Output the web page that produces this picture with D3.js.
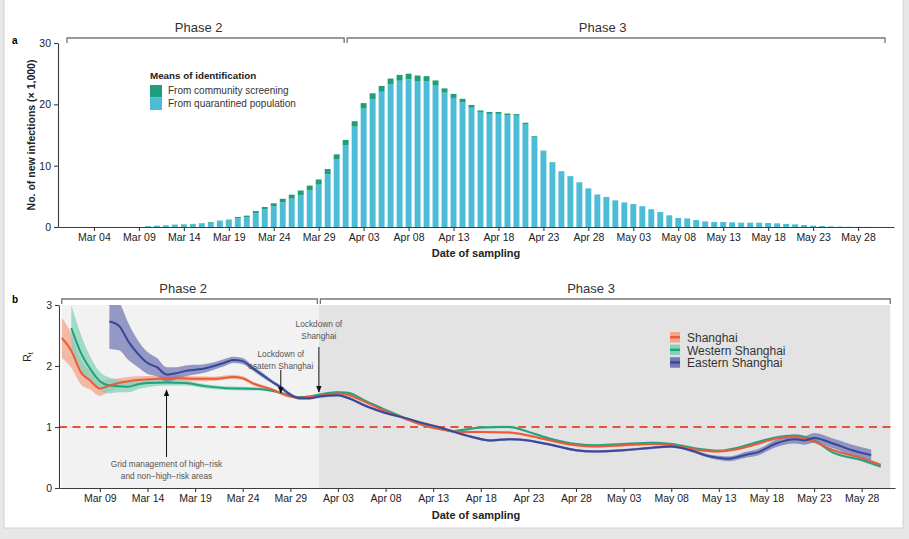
<!DOCTYPE html>
<html>
<head>
<meta charset="utf-8">
<script src="https://cdn.jsdelivr.net/npm/d3@7"></script>
<style>
  body { margin: 0; background: #e7e7e7; font-family: "Liberation Sans", Arial, sans-serif; }
  .tick text { font-size: 10.5px; fill: #222; font-family: "Liberation Sans", Arial, sans-serif; }
  .tick line, .domain { stroke: #3c3c3c; stroke-width: 1.1; }
  .note { font-size: 8.3px; fill: #555; text-anchor: middle; }
  .phase { font-size: 13px; fill: #333; text-anchor: middle; }
  .bracket { fill: none; stroke: #777; stroke-width: 1.3; }
</style>
</head>
<body>
<svg width="909" height="539"></svg>
<script>
// ---- panel a: new infections (thousands) per sampling day, from Mar 10 ----
var barStart = "2022-03-10";
var totalK = [0.15,0.2,0.27,0.38,0.43,0.5,0.6,0.82,1.03,1.2,1.63,1.85,2.6,3.26,3.86,4.6,5.27,5.95,6.75,7.75,9.45,11.85,
  14.2,17.25,20.2,21.8,23.0,24.2,24.8,25.0,24.7,24.6,23.9,22.6,21.7,20.9,19.9,19.0,18.75,18.75,18.5,18.4,17.0,14.8,12.45,10.55,9.1,8.3,7.3,6.3,5.3,4.9,
  4.35,4.0,3.75,3.4,2.9,2.45,1.9,1.47,1.4,1.14,0.92,0.82,0.82,0.76,0.7,0.7,0.7,0.65,0.6,0.5,0.43,0.33,0.22,0.16,0.1,0.06,0.04,0.03,0.02];
var communityK = [0.02,0.03,0.04,0.05,0.06,0.07,0.08,0.1,0.12,0.15,0.2,0.25,0.35,0.4,0.45,0.6,0.65,0.75,0.8,0.85,0.85,0.85,
  0.85,0.9,0.9,0.95,0.95,0.95,0.95,0.9,0.9,0.85,0.75,0.7,0.65,0.6,0.45,0.35,0.3,0.3,0.3,0.25,0.2,0.15,0.1,0.08,0.05,0.04,0.03,0.02,0.02,0.02,
  0.02,0.02,0.01,0.01,0.01,0.01,0.01,0.01,0.01,0.01,0.01,0.01,0.01,0.01,0.01,0.01,0.01,0.01,0.01,0.01,0.01,0.01,0.01,0,0,0,0,0,0];
var yTicksA = [0, 10, 20, 30];
var legendA = ["From community screening", "From quarantined population"];

var tickDays = ["2022-03-04","2022-03-09","2022-03-14","2022-03-19","2022-03-24","2022-03-29","2022-04-03","2022-04-08","2022-04-13",
  "2022-04-18","2022-04-23","2022-04-28","2022-05-03","2022-05-08","2022-05-13","2022-05-18","2022-05-23","2022-05-28"];

// ---- panel b: Rt (day = days after Mar 1), mean and half width of band ----
var shDay = [4,5,6,7,8,9,10,11,12,14,16,18,20,22,23,24,26,28,29,30,31,33,34,36,38,40,42,44,46,48,51,53,55,58,60,63,66,68,71,73,75,77,79,81,83,85,88,90];
var shRt = [2.46,2.25,1.90,1.76,1.63,1.68,1.72,1.75,1.77,1.79,1.80,1.79,1.79,1.82,1.80,1.72,1.62,1.50,1.48,1.49,1.51,1.55,1.53,1.40,1.26,1.14,1.03,0.96,0.92,0.92,
  0.91,0.86,0.79,0.70,0.68,0.70,0.72,0.70,0.62,0.60,0.64,0.72,0.81,0.84,0.76,0.62,0.49,0.38];
var shHalf = [0.33,0.28,0.2,0.15,0.12,0.1,0.08,0.07,0.06,0.05,0.045,0.04,0.035,0.035,0.03,0.03,0.025,0.02,0.02,0.02,0.02,0.02,0.02,0.02,0.02,0.02,0.02,0.02,
  0.02,0.02,0.02,0.02,0.02,0.02,0.02,0.02,0.02,0.02,0.02,0.02,0.02,0.02,0.02,0.02,0.02,0.02,0.025,0.025];

var wsDay = [5,6,7,8,9,10,11,12,13,15,17,19,21,23,25,27,28,29,30,31,33,34,36,38,40,42,44,45,46,48,50,51,53,55,58,60,63,66,68,71,73,75,77,79,81,83,85,88,90];
var wsRt = [2.62,2.22,1.95,1.75,1.68,1.67,1.66,1.70,1.72,1.73,1.72,1.67,1.64,1.63,1.62,1.56,1.51,1.49,1.50,1.53,1.57,1.56,1.42,1.28,1.15,
  1.03,0.96,0.93,0.95,0.99,1.00,1.00,0.92,0.82,0.72,0.70,0.72,0.74,0.72,0.64,0.61,0.66,0.75,0.83,0.86,0.78,0.58,0.46,0.35];
var wsHalf = [0.38,0.3,0.2,0.15,0.13,0.1,0.09,0.08,0.07,0.05,0.04,0.035,0.03,0.03,0.025,0.02,0.02,0.02,0.02,0.02,0.02,0.02,0.02,0.02,0.02,
  0.02,0.02,0.02,0.02,0.02,0.02,0.02,0.02,0.02,0.02,0.02,0.02,0.02,0.02,0.02,0.02,0.02,0.02,0.02,0.02,0.02,0.02,0.025,0.025];

var esDay = [9,10,11,12,13,14,15,16,17,18,19,20,21,22,23,24,25,26,27,28,29,30,31,33,34,36,38,40,42,44,45,47,49,51,53,55,58,60,63,66,68,70,72,74,76,77,79,81,82,83,85,87,89];
var esRt = [2.73,2.66,2.40,2.20,2.05,1.98,1.86,1.88,1.92,1.94,1.96,2.00,2.05,2.10,2.08,1.97,1.86,1.75,1.65,1.53,1.47,1.47,1.50,1.52,1.48,1.34,1.23,1.15,
  1.06,0.98,0.93,0.84,0.78,0.80,0.78,0.72,0.62,0.60,0.62,0.66,0.68,0.62,0.52,0.48,0.55,0.58,0.73,0.80,0.78,0.82,0.73,0.62,0.54];
var esHalf = [0.45,0.4,0.3,0.22,0.18,0.15,0.12,0.1,0.09,0.08,0.07,0.06,0.06,0.05,0.05,0.04,0.04,0.03,0.03,0.03,0.025,0.025,0.025,0.02,0.02,0.02,0.02,0.02,
  0.02,0.02,0.02,0.02,0.02,0.02,0.02,0.02,0.02,0.02,0.02,0.02,0.02,0.025,0.03,0.04,0.05,0.05,0.06,0.07,0.07,0.08,0.08,0.09,0.09];

var seriesNames = ["Shanghai", "Western Shanghai", "Eastern Shanghai"];
var yTicksB = [0, 1, 2, 3];

var phaseNames = ["Phase 2", "Phase 3"];
var phaseA = [["2022-03-01","2022-04-01"], ["2022-04-01","2022-05-31"]];
var phaseB = [["2022-03-05","2022-04-01"], ["2022-04-01","2022-05-31"]];

// ---- drawing ----
var svg = d3.select("svg");
var parse = d3.utcParse("%Y-%m-%d");
var fmt = d3.utcFormat("%b %d");
var mar1 = parse("2022-03-01");
var ticks = tickDays.map(parse);

// card
svg.append("rect").attr("x", 4).attr("y", -1).attr("width", 899).attr("height", 529)
  .attr("fill", "#fff").attr("stroke", "#d2d2d2");

/* panel a */
var xA = d3.scaleUtc().domain([parse("2022-02-28"), parse("2022-06-01")]).range([58, 894]);
var yA = d3.scaleLinear().domain([0, 30]).range([227, 43]);
var dayW = xA(parse("2022-03-02")) - xA(mar1);
var bw = dayW * 0.66;
var bars = totalK.map(function(t, i) {
  return { date: d3.utcDay.offset(parse(barStart), i), total: t, comm: communityK[i] };
});

var gA = svg.append("g");
gA.selectAll("rect.q").data(bars).enter().append("rect")
  .attr("x", function(d) { return xA(d.date) - bw / 2; })
  .attr("width", bw)
  .attr("y", function(d) { return yA(d.total - d.comm); })
  .attr("height", function(d) { return yA(0) - yA(d.total - d.comm); })
  .attr("fill", "#4dbcd6");
gA.selectAll("rect.c").data(bars).enter().append("rect")
  .attr("x", function(d) { return xA(d.date) - bw / 2; })
  .attr("width", bw)
  .attr("y", function(d) { return yA(d.total); })
  .attr("height", function(d) { return yA(d.total - d.comm) - yA(d.total); })
  .attr("fill", "#1e9e7a");

gA.append("g").attr("transform", "translate(0,227)")
  .call(d3.axisBottom(xA).tickValues(ticks).tickFormat(fmt).tickSize(4).tickSizeOuter(0));
gA.append("g").attr("transform", "translate(58,0)")
  .call(d3.axisLeft(yA).tickValues(yTicksA).tickFormat(d3.format("d")).tickSize(4).tickSizeOuter(0));

svg.append("text").attr("x", 476).attr("y", 257).attr("text-anchor", "middle")
  .attr("font-size", "11px").attr("font-weight", "bold").attr("fill", "#222").text("Date of sampling");
svg.append("text").attr("transform", "translate(35,135) rotate(-90)").attr("text-anchor", "middle")
  .attr("font-size", "10.5px").attr("font-weight", "bold").attr("fill", "#222").text("No. of new infections (× 1,000)");
svg.append("text").attr("x", 12).attr("y", 44).attr("font-size", "10px").attr("font-weight", "bold").text("a");

// legend a
svg.append("text").attr("x", 150).attr("y", 79).attr("font-size", "9.8px").attr("font-weight", "bold")
  .attr("fill", "#222").text("Means of identification");
var legA = svg.selectAll("g.legA").data(legendA).enter().append("g")
  .attr("transform", function(d, i) { return "translate(150," + (85 + i * 12.5) + ")"; });
legA.append("rect").attr("width", 12).attr("height", 12.5)
  .attr("fill", function(d, i) { return i === 0 ? "#1e9e7a" : "#4dbcd6"; });
legA.append("text").attr("x", 18).attr("y", 9).attr("font-size", "10px").attr("fill", "#333").text(function(d) { return d; });

// phase brackets
function brackets(x, spans, yLine, yLabel) {
  spans.forEach(function(s, i) {
    var x0 = x(parse(s[0])) + (i > 0 ? 1.5 : 0), x1 = x(parse(s[1])) - (i === 0 ? 1.5 : 0);
    svg.append("path").attr("class", "bracket")
      .attr("d", "M" + x0 + "," + (yLine + 5) + "V" + yLine + "H" + x1 + "V" + (yLine + 5));
    svg.append("text").attr("class", "phase").attr("x", x0 + (x1 - x0) * 0.475).attr("y", yLabel).text(phaseNames[i]);
  });
}
brackets(xA, phaseA, 38, 31.5);

/* panel b */
var xB = d3.scaleUtc().domain([new Date(Date.UTC(2022, 2, 4, 17)), new Date(Date.UTC(2022, 4, 31, 12))]).range([59, 895]);
var yB = d3.scaleLinear().domain([0, 3]).range([488, 305]);
var phaseFill = ["#f2f2f2", "#e3e3e3"];
phaseB.forEach(function(s, i) {
  svg.append("rect").attr("x", xB(parse(s[0]))).attr("y", yB(3))
    .attr("width", xB(parse(s[1])) - xB(parse(s[0]))).attr("height", yB(0) - yB(3))
    .attr("fill", phaseFill[i]);
});
brackets(xB, phaseB, 299, 292.5);

svg.append("defs").append("clipPath").attr("id", "clipB").append("rect")
  .attr("x", 59).attr("y", yB(3)).attr("width", 836).attr("height", yB(0) - yB(3));

svg.append("line").attr("x1", 59).attr("x2", 895).attr("y1", yB(1)).attr("y2", yB(1))
  .attr("stroke", "#e8513b").attr("stroke-width", 1.8).attr("stroke-dasharray", "8,5.5");

var series = [
  { name: seriesNames[0], day: shDay, rt: shRt, half: shHalf, line: "#ec5a3c", band: "#f4a488" },
  { name: seriesNames[1], day: wsDay, rt: wsRt, half: wsHalf, line: "#1fa37d", band: "#86d2ba" },
  { name: seriesNames[2], day: esDay, rt: esRt, half: esHalf, line: "#38479a", band: "#7479b6" }
];
series.forEach(function(s) {
  s.pts = s.day.map(function(d, i) { return { date: d3.utcDay.offset(mar1, d), v: s.rt[i], h: s.half[i] }; });
});

var gB = svg.append("g").attr("clip-path", "url(#clipB)");
var area = d3.area().curve(d3.curveMonotoneX)
  .x(function(d) { return xB(d.date); })
  .y0(function(d) { return yB(d.v - d.h); })
  .y1(function(d) { return yB(d.v + d.h); });
var line = d3.line().curve(d3.curveMonotoneX)
  .x(function(d) { return xB(d.date); })
  .y(function(d) { return yB(d.v); });

series.forEach(function(s) {
  gB.append("path").attr("d", area(s.pts)).attr("fill", s.band).attr("fill-opacity", 0.75);
});
[1, 0, 2].forEach(function(k) {
  var s = series[k];
  gB.append("path").attr("d", line(s.pts)).attr("fill", "none").attr("stroke", s.line).attr("stroke-width", 2);
});

svg.append("g").attr("transform", "translate(0,488)")
  .call(d3.axisBottom(xB).tickValues(ticks.filter(function(t) { return t >= xB.domain()[0]; }))
    .tickFormat(fmt).tickSize(4).tickSizeOuter(0));
svg.append("g").attr("transform", "translate(59,0)")
  .call(d3.axisLeft(yB).tickValues(yTicksB).tickFormat(d3.format("d")).tickSize(4).tickSizeOuter(0));

svg.append("text").attr("x", 476).attr("y", 519).attr("text-anchor", "middle")
  .attr("font-size", "11px").attr("font-weight", "bold").attr("fill", "#222").text("Date of sampling");
var rt = svg.append("text").attr("transform", "translate(31,357) rotate(-90)").attr("text-anchor", "middle")
  .attr("font-size", "10.5px").attr("fill", "#222");
rt.append("tspan").text("R");
rt.append("tspan").attr("font-size", "7px").attr("dy", 2).text("t");
svg.append("text").attr("x", 12).attr("y", 303).attr("font-size", "10px").attr("font-weight", "bold").text("b");

// legend b
var legB = svg.selectAll("g.legB").data(series).enter().append("g")
  .attr("transform", function(d, i) { return "translate(670," + (332 + i * 12.6) + ")"; });
legB.append("rect").attr("width", 10).attr("height", 10.5).attr("fill", function(d) { return d.band; });
legB.append("line").attr("x1", 0).attr("x2", 10).attr("y1", 5.25).attr("y2", 5.25)
  .attr("stroke", function(d) { return d.line; }).attr("stroke-width", 2.4);
legB.append("text").attr("x", 17).attr("y", 10).attr("font-size", "12px").attr("fill", "#333")
  .text(function(d) { return d.name; });

// annotations
svg.append("defs").append("marker").attr("id", "arr").attr("viewBox", "0 0 10 10")
  .attr("refX", 9).attr("refY", 5).attr("markerWidth", 7).attr("markerHeight", 7).attr("orient", "auto")
  .append("path").attr("d", "M0,1L10,5L0,9Z").attr("fill", "#111");
function arrow(dateStr, yFrom, yTo) {
  var x = xB(parse(dateStr));
  svg.append("line").attr("x1", x).attr("x2", x).attr("y1", yFrom).attr("y2", yTo)
    .attr("stroke", "#111").attr("stroke-width", 1).attr("marker-end", "url(#arr)");
  return x;
}
var xg = arrow("2022-03-16", 457, 390);
svg.append("text").attr("class", "note").attr("x", xg).attr("y", 467).text("Grid management of high−risk");
svg.append("text").attr("class", "note").attr("x", xg).attr("y", 479).text("and non−high−risk areas");
var xe = arrow("2022-03-28", 370, 393);
svg.append("text").attr("class", "note").attr("x", xe).attr("y", 357).text("Lockdown of");
svg.append("text").attr("class", "note").attr("x", xe).attr("y", 369).text("esatern Shanghai");
var xs = arrow("2022-04-01", 347, 392);
svg.append("text").attr("class", "note").attr("x", xs).attr("y", 327).text("Lockdown of");
svg.append("text").attr("class", "note").attr("x", xs).attr("y", 339).text("Shanghai");
</script>
</body>
</html>
